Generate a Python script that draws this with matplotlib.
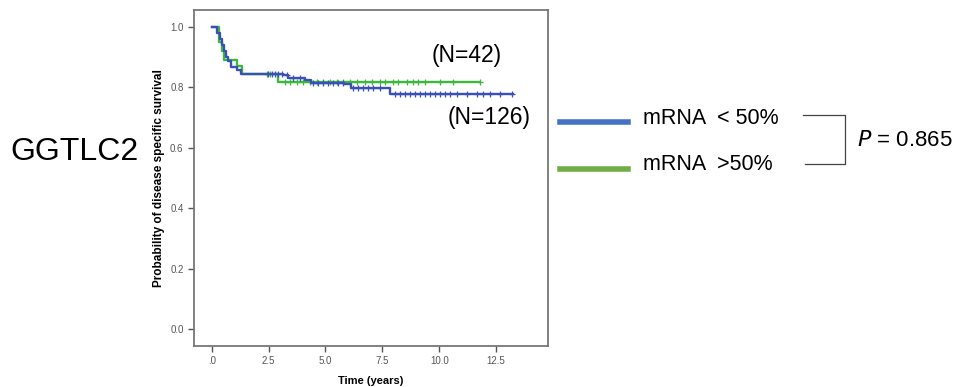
import matplotlib
matplotlib.use("Agg")
import matplotlib.pyplot as plt
from matplotlib.lines import Line2D

plt.rcParams['font.family'] = ['Liberation Sans', 'DejaVu Sans']

# Kaplan-Meier steps
low_t = [0.0, 0.25, 0.35, 0.45, 0.55, 0.62, 0.72, 0.85, 1.1, 1.3, 3.15, 3.35, 4.1, 4.35, 5.8, 6.1, 7.85]
low_s = [1.0, 0.98, 0.96, 0.94, 0.92, 0.90, 0.885, 0.868, 0.857, 0.845, 0.840, 0.832, 0.824, 0.815, 0.809, 0.797, 0.776]
low_end = 13.25
low_cens = [2.49, 2.64, 2.78, 2.93, 3.07, 3.29, 3.59, 3.88, 4.47, 4.69, 4.9, 5.12, 5.34, 5.56, 5.78,
            6.22, 6.44, 6.66, 6.88, 7.1, 7.39, 8.05, 8.27, 8.49, 8.71, 8.93, 9.15, 9.37, 9.59, 9.81,
            10.03, 10.25, 10.47, 10.76, 11.2, 11.64, 11.93, 12.23, 12.66, 13.18]

high_t = [0.0, 0.33, 0.45, 0.55, 1.13, 1.32, 2.93]
high_s = [1.0, 0.95, 0.92, 0.889, 0.871, 0.845, 0.817]
high_end = 11.8
high_cens = [2.42, 2.56, 3.22, 3.44, 3.73, 4.03, 4.32, 4.61, 4.9, 5.2, 5.49, 5.78, 6.08, 6.37, 6.73,
             7.03, 7.39, 7.61, 7.98, 8.2, 8.57, 8.86, 9.08, 9.37, 10.03, 10.61, 11.79]

xticks = [0, 2.5, 5.0, 7.5, 10.0, 12.5]
xtick_labels = ['.0', '2.5', '5.0', '7.5', '10.0', '12.5']
yticks = [0.0, 0.2, 0.4, 0.6, 0.8, 1.0]

blue = '#3a50b5'
green = '#3cb83c'


def surv_at(ts, ss, x):
    v = ss[0]
    for t, s in zip(ts, ss):
        if t <= x:
            v = s
    return v


fig = plt.figure(figsize=(9.62, 3.87), dpi=100)
ax = fig.add_axes([194 / 962, 1 - 346 / 387, (548 - 194) / 962, (346 - 10) / 387])

for ts, ss, end, cens, c in [(high_t, high_s, high_end, high_cens, green),
                              (low_t, low_s, low_end, low_cens, blue)]:
    ax.step(ts + [end], ss + [ss[-1]], where='post', color=c, lw=1.7)
    ax.plot(cens, [surv_at(ts, ss, x) for x in cens], ls='none', marker='+',
            ms=5, mew=0.9, color=c)

ax.set_xlim(-0.78, 14.78)
ax.set_ylim(-0.055, 1.055)
ax.set_xticks(xticks)
ax.set_xticklabels(xtick_labels)
ax.set_yticks(yticks)
ax.set_yticklabels(['%.1f' % v for v in yticks])
ax.tick_params(labelsize=7, colors='#555555', length=4, width=1, direction='out')
for sp in ax.spines.values():
    sp.set_color('#777777')
    sp.set_linewidth(1.3)
ax.set_xlabel('Time (years)', fontsize=8, fontweight='bold', labelpad=7)
ax.set_ylabel('Probability of disease specific survival', fontsize=8.5, fontweight='bold', labelpad=4)

ax.text(0.67, 0.865, '(N=42)', transform=ax.transAxes, fontsize=16.5, va='center')
ax.text(0.716, 0.68, '(N=126)', transform=ax.transAxes, fontsize=16.5, va='center')

fig.text(10 / 962, 1 - 152 / 387, 'GGTLC2', fontsize=23, va='center')

# legend drawn by hand
fig.add_artist(Line2D([560 / 962, 628 / 962], [1 - 122 / 387] * 2, color='#4472c4', lw=4))
fig.add_artist(Line2D([560 / 962, 628 / 962], [1 - 169 / 387] * 2, color='#70ad47', lw=4))
fig.text(643 / 962, 1 - 118 / 387, 'mRNA  < 50%', fontsize=15.5, va='center')
fig.text(643 / 962, 1 - 165 / 387, 'mRNA  >50%', fontsize=15.5, va='center')
fig.add_artist(Line2D([803 / 962, 845 / 962, 845 / 962, 805 / 962],
                      [1 - 115 / 387, 1 - 115 / 387, 1 - 164 / 387, 1 - 164 / 387],
                      color='#444444', lw=0.9))
fig.text(857 / 962, 1 - 140 / 387, '$P$ = 0.865', fontsize=16, va='center')

plt.savefig('out.png', dpi=100)
